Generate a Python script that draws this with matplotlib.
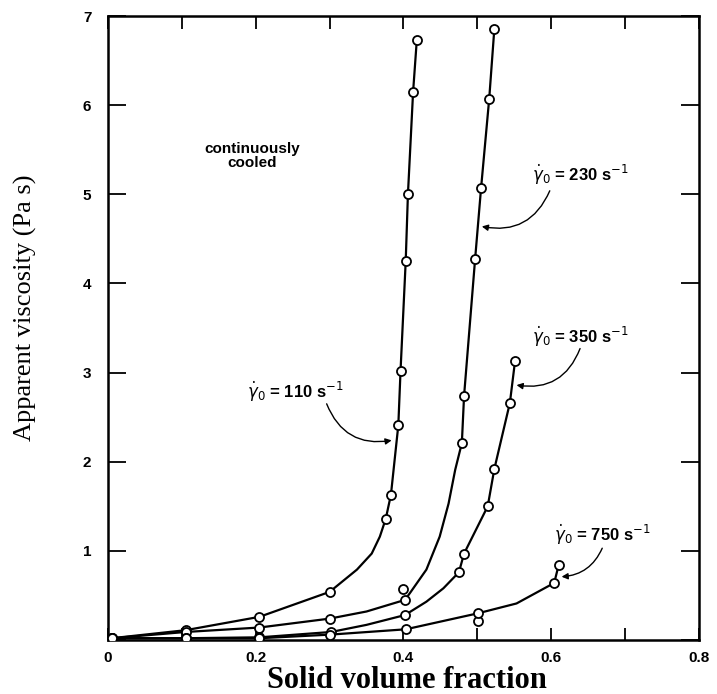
import matplotlib.pyplot as plt

x_110 = [0.005, 0.105, 0.205, 0.300, 0.376, 0.383, 0.393, 0.396, 0.403, 0.406, 0.413, 0.418]
y_110 = [0.02, 0.11, 0.26, 0.54, 1.36, 1.63, 2.41, 3.02, 4.25, 5.00, 6.15, 6.73]

x_230 = [0.005, 0.105, 0.205, 0.300, 0.402, 0.400, 0.479, 0.482, 0.497, 0.505, 0.516, 0.523]
y_230 = [0.02, 0.09, 0.14, 0.24, 0.45, 0.57, 2.21, 2.74, 4.28, 5.07, 6.07, 6.86]

x_350 = [0.005, 0.105, 0.205, 0.302, 0.402, 0.475, 0.482, 0.514, 0.523, 0.544, 0.551]
y_350 = [0.02, 0.02, 0.03, 0.09, 0.28, 0.76, 0.97, 1.50, 1.92, 2.66, 3.13]

x_750 = [0.005, 0.105, 0.205, 0.300, 0.403, 0.501, 0.501, 0.604, 0.610]
y_750 = [0.02, 0.02, 0.02, 0.06, 0.12, 0.21, 0.30, 0.64, 0.84]

# hand-drawn curves through the points
line_110_x = [0.005, 0.105, 0.205, 0.300, 0.337, 0.357, 0.368, 0.376, 0.383, 0.393,
              0.396, 0.403, 0.406, 0.413, 0.418]
line_110_y = [0.02, 0.11, 0.26, 0.54, 0.79, 0.97, 1.16, 1.36, 1.63, 2.41,
              3.02, 4.25, 5.00, 6.15, 6.73]

line_230_x = [0.005, 0.105, 0.205, 0.300, 0.350, 0.402, 0.409, 0.431, 0.449, 0.461,
              0.470, 0.479, 0.482, 0.497, 0.505, 0.516, 0.523]
line_230_y = [0.02, 0.09, 0.14, 0.24, 0.32, 0.45, 0.53, 0.79, 1.16, 1.53,
              1.91, 2.21, 2.74, 4.28, 5.07, 6.07, 6.86]

line_350_x = [0.005, 0.105, 0.205, 0.302, 0.350, 0.402, 0.431, 0.454, 0.475, 0.482,
              0.514, 0.523, 0.544, 0.551]
line_350_y = [0.02, 0.02, 0.03, 0.09, 0.17, 0.28, 0.43, 0.58, 0.76, 0.97,
              1.50, 1.92, 2.66, 3.13]

line_750_x = [0.005, 0.105, 0.205, 0.300, 0.403, 0.501, 0.553, 0.604, 0.610]
line_750_y = [0.02, 0.02, 0.02, 0.06, 0.12, 0.30, 0.41, 0.64, 0.84]

x_ticks = [0.0, 0.1, 0.2, 0.3, 0.4, 0.5, 0.6, 0.7, 0.8]
x_ticklabels = ['0', '', '0.2', '', '0.4', '', '0.6', '', '0.8']
y_ticks = [0, 1, 2, 3, 4, 5, 6, 7]
y_ticklabels = ['', '1', '2', '3', '4', '5', '6', '7']

plt.rcParams['font.family'] = ['Liberation Sans', 'DejaVu Sans']

fig = plt.figure(figsize=(7.17, 6.94), dpi=100)
ax = fig.add_axes([0.1506, 0.0778, 0.8243, 0.899])

curves = [
    (line_110_x, line_110_y, x_110, y_110),
    (line_230_x, line_230_y, x_230, y_230),
    (line_350_x, line_350_y, x_350, y_350),
    (line_750_x, line_750_y, x_750, y_750),
]
for lx, ly, px, py in curves:
    ax.plot(lx, ly, color='black', lw=1.6, zorder=2)
    ax.plot(px, py, ls='none', marker='o', ms=6.5, mfc='white',
            mec='black', mew=1.3, zorder=3)

ax.set_xlim(0, 0.8)
ax.set_ylim(0, 7)
ax.set_xticks(x_ticks)
ax.set_xticklabels(x_ticklabels, fontsize=11, fontweight='bold')
ax.set_yticks(y_ticks)
ax.set_yticklabels(y_ticklabels, fontsize=11, fontweight='bold')
ax.tick_params(axis='x', direction='in', top=True, length=9, width=1.3, pad=8)
ax.tick_params(axis='y', direction='in', right=True, length=13, width=1.3, pad=12)
for sp in ax.spines.values():
    sp.set_linewidth(1.8)

ax.set_xlabel('Solid volume fraction', family='Liberation Serif',
              fontsize=22, fontweight='bold')
ax.xaxis.set_label_coords(0.505, -0.042)
ax.set_ylabel('Apparent viscosity (Pa s)', family='Liberation Serif', fontsize=19)
ax.yaxis.set_label_coords(-0.12, 0.532)

ax.text(0.195, 5.43, 'continuously\ncooled', ha='center', va='center',
        fontsize=11, fontweight='bold', linespacing=1.0)

arrow = dict(arrowstyle='-|>', color='black', lw=1.0, shrinkA=0, shrinkB=0,
             mutation_scale=9)

ax.text(0.254, 2.78, r'$\dot{\gamma}_0$ = 110 s$^{-1}$', ha='center', va='center',
        fontsize=12, fontweight='bold')
ax.annotate('', xy=(0.384, 2.24), xytext=(0.296, 2.65),
            arrowprops=dict(arrow, connectionstyle='arc3,rad=0.4'))

ax.text(0.639, 5.22, r'$\dot{\gamma}_0$ = 230 s$^{-1}$', ha='center', va='center',
        fontsize=12, fontweight='bold')
ax.annotate('', xy=(0.506, 4.64), xytext=(0.598, 5.04),
            arrowprops=dict(arrow, connectionstyle='arc3,rad=-0.4'))

ax.text(0.639, 3.40, r'$\dot{\gamma}_0$ = 350 s$^{-1}$', ha='center', va='center',
        fontsize=12, fontweight='bold')
ax.annotate('', xy=(0.553, 2.86), xytext=(0.639, 3.27),
            arrowprops=dict(arrow, connectionstyle='arc3,rad=-0.4'))

ax.text(0.669, 1.18, r'$\dot{\gamma}_0$ = 750 s$^{-1}$', ha='center', va='center',
        fontsize=12, fontweight='bold')
ax.annotate('', xy=(0.614, 0.71), xytext=(0.669, 1.03),
            arrowprops=dict(arrow, connectionstyle='arc3,rad=-0.3'))

fig.savefig('out.png', dpi=100)
